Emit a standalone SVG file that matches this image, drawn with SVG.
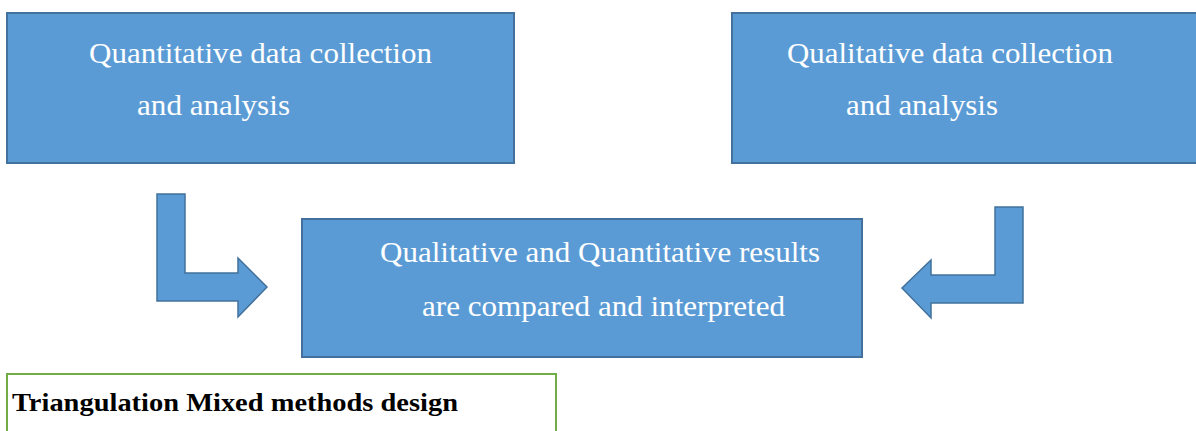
<svg xmlns="http://www.w3.org/2000/svg" width="1196" height="431" viewBox="0 0 1196 431">
  <style>
    .box { fill: #5B9BD5; stroke: #41719C; stroke-width: 2; }
    .arrow { fill: #5B9BD5; stroke: #41719C; stroke-width: 1.5; stroke-linejoin: miter; }
    .label { font-family: "Liberation Serif", "Times New Roman", serif; font-size: 30px; fill: #FFFFFF; }
    .caption { font-family: "Liberation Serif", "Times New Roman", serif; font-size: 26px; font-weight: bold; fill: #000000; }
  </style>
  <rect width="1196" height="431" fill="#FFFFFF"/>

  <g id="quantitative">
    <rect class="box" x="7" y="13" width="507" height="150"/>
    <text class="label" x="89" y="63" textLength="343" lengthAdjust="spacingAndGlyphs">Quantitative data collection</text>
    <text class="label" x="137" y="115" textLength="153" lengthAdjust="spacingAndGlyphs">and analysis</text>
  </g>

  <g id="qualitative">
    <rect class="box" x="732" y="13" width="470" height="150"/>
    <text class="label" x="787" y="63" textLength="326" lengthAdjust="spacingAndGlyphs">Qualitative data collection</text>
    <text class="label" x="846" y="115" textLength="152" lengthAdjust="spacingAndGlyphs">and analysis</text>
  </g>

  <g id="results">
    <rect class="box" x="302" y="219" width="560" height="138"/>
    <text class="label" x="380" y="262" textLength="440" lengthAdjust="spacingAndGlyphs">Qualitative and Quantitative results</text>
    <text class="label" x="422" y="316" textLength="363" lengthAdjust="spacingAndGlyphs">are compared and interpreted</text>
  </g>

  <g id="connectors">
    <path class="arrow" d="M157 194 H185 V273 H238 V258 L267 287 L238 317 V301 H157 Z"/>
    <path class="arrow" d="M1023 207 H995 V275 H931 V260 L902 288 L931 318 V303 H1023 Z"/>
  </g>

  <g id="title">
    <rect x="7" y="374" width="549" height="70" fill="none" stroke="#70AD47" stroke-width="2"/>
    <text class="caption" x="12" y="411" textLength="446" lengthAdjust="spacingAndGlyphs">Triangulation Mixed methods design</text>
  </g>
</svg>
